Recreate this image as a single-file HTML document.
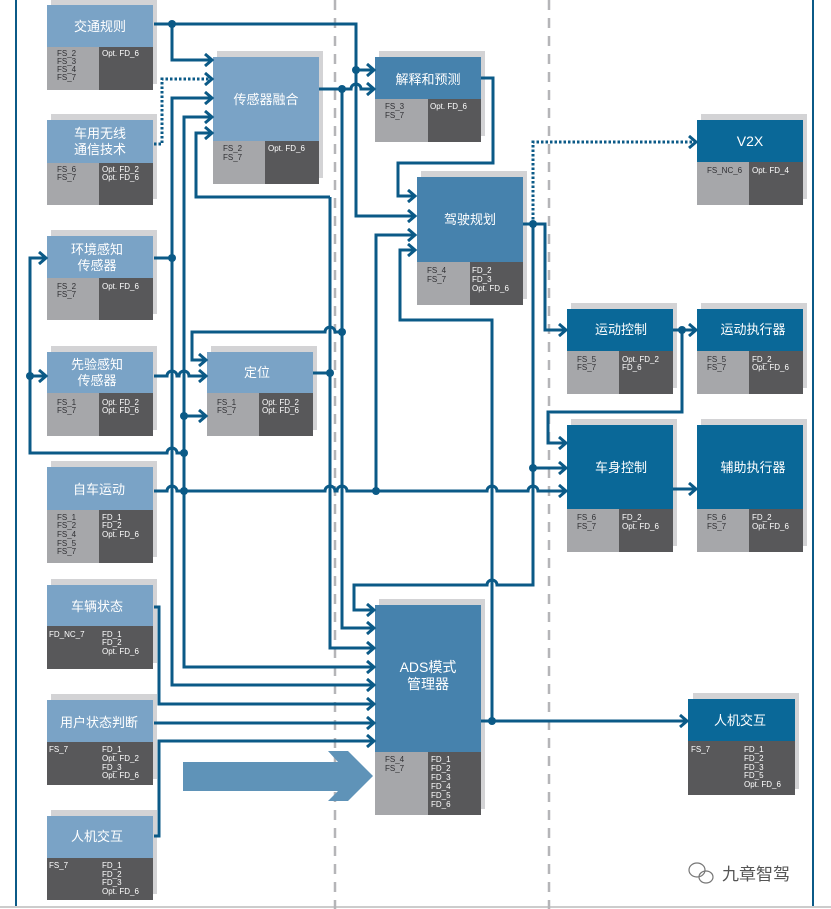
<!DOCTYPE html>
<html><head><meta charset="utf-8"><style>
html,body{margin:0;padding:0;background:#fff;}
svg{display:block;}
.t{font-family:"Liberation Sans","Noto Sans CJK SC",sans-serif;fill:#fff;font-size:13px;text-anchor:middle;}
.s{font-family:"Liberation Sans",sans-serif;font-size:8px;}
.d{fill:#2f2f33;}
.w{fill:#fff;}
.c{fill:none;stroke:#0b5a87;stroke-width:3;}
.dt{fill:none;stroke:#0b5a87;stroke-width:3;stroke-dasharray:2.5,2;}
</style></head><body>
<svg width="831" height="909" viewBox="0 0 831 909" xmlns="http://www.w3.org/2000/svg">
<defs>
<marker id="a" markerUnits="userSpaceOnUse" markerWidth="12" markerHeight="14" refX="9" refY="7" orient="auto">
<path d="M2,1 L9,7 L2,13" fill="none" stroke="#0b5a87" stroke-width="3"/>
</marker>
</defs>
<rect width="831" height="909" fill="#fff"/>
<line x1="16" y1="0" x2="16" y2="906" stroke="#0b5a87" stroke-width="2"/>
<line x1="813" y1="0" x2="813" y2="906" stroke="#0b5a87" stroke-width="2"/>
<line x1="0" y1="907" x2="831" y2="907" stroke="#ccc" stroke-width="2"/>
<line x1="335" y1="0" x2="335" y2="909" stroke="#b5b5b8" stroke-width="2.5" stroke-dasharray="10,8"/>
<line x1="549" y1="0" x2="549" y2="909" stroke="#b5b5b8" stroke-width="2.5" stroke-dasharray="10,8"/>

<polygon points="183,762 338,762 328,751 348,751 373,776 348,801 328,801 338,791 183,791" fill="#5f93b8"/>

<g>
<rect x="51" y="-1" width="106" height="85" fill="#d3d3d5"/>
<rect x="47" y="5" width="106" height="42" fill="#7aa3c6"/>
<rect x="47" y="47" width="52" height="43" fill="#a6a7aa"/><rect x="99" y="47" width="54" height="43" fill="#58585a"/>
<text class="t" x="100" y="31">交通规则</text>
<text class="s d" x="57" y="56">FS_2</text><text class="s d" x="57" y="64">FS_3</text><text class="s d" x="57" y="72">FS_4</text><text class="s d" x="57" y="80">FS_7</text>
<text class="s w" x="102" y="56">Opt. FD_6</text>

<rect x="51" y="114" width="106" height="85" fill="#d3d3d5"/>
<rect x="47" y="120" width="106" height="43" fill="#7aa3c6"/>
<rect x="47" y="163" width="52" height="42" fill="#a6a7aa"/><rect x="99" y="163" width="54" height="42" fill="#58585a"/>
<text class="t" x="100" y="138">车用无线</text><text class="t" x="100" y="154">通信技术</text>
<text class="s d" x="57" y="172">FS_6</text><text class="s d" x="57" y="180">FS_7</text>
<text class="s w" x="102" y="172">Opt. FD_2</text><text class="s w" x="102" y="180">Opt. FD_6</text>

<rect x="51" y="230" width="106" height="84" fill="#d3d3d5"/>
<rect x="47" y="236" width="106" height="42" fill="#7aa3c6"/>
<rect x="47" y="278" width="52" height="42" fill="#a6a7aa"/><rect x="99" y="278" width="54" height="42" fill="#58585a"/>
<text class="t" x="97" y="254">环境感知</text><text class="t" x="97" y="270">传感器</text>
<text class="s d" x="57" y="289">FS_2</text><text class="s d" x="57" y="297">FS_7</text>
<text class="s w" x="102" y="289">Opt. FD_6</text>

<rect x="51" y="346" width="106" height="84" fill="#d3d3d5"/>
<rect x="47" y="352" width="106" height="41" fill="#7aa3c6"/>
<rect x="47" y="393" width="52" height="43" fill="#a6a7aa"/><rect x="99" y="393" width="54" height="43" fill="#58585a"/>
<text class="t" x="97" y="369">先验感知</text><text class="t" x="97" y="385">传感器</text>
<text class="s d" x="57" y="405">FS_1</text><text class="s d" x="57" y="413">FS_7</text>
<text class="s w" x="102" y="405">Opt. FD_2</text><text class="s w" x="102" y="413">Opt. FD_6</text>

<rect x="51" y="461" width="106" height="96" fill="#d3d3d5"/>
<rect x="47" y="467" width="106" height="43" fill="#7aa3c6"/>
<rect x="47" y="510" width="52" height="53" fill="#a6a7aa"/><rect x="99" y="510" width="54" height="53" fill="#58585a"/>
<text class="t" x="99" y="494">自车运动</text>
<text class="s d" x="57" y="520">FS_1</text><text class="s d" x="57" y="528">FS_2</text><text class="s d" x="57" y="537">FS_4</text><text class="s d" x="57" y="546">FS_5</text><text class="s d" x="57" y="554">FS_7</text>
<text class="s w" x="102" y="520">FD_1</text><text class="s w" x="102" y="528">FD_2</text><text class="s w" x="102" y="537">Opt. FD_6</text>

<rect x="51" y="579" width="106" height="84" fill="#d3d3d5"/>
<rect x="47" y="585" width="106" height="41" fill="#7aa3c6"/>
<rect x="47" y="626" width="106" height="43" fill="#58585a"/>
<text class="t" x="97" y="611">车辆状态</text>
<text class="s w" x="49" y="637">FD_NC_7</text>
<text class="s w" x="102" y="637">FD_1</text><text class="s w" x="102" y="645">FD_2</text><text class="s w" x="102" y="654">Opt. FD_6</text>

<rect x="51" y="694" width="106" height="85" fill="#d3d3d5"/>
<rect x="47" y="700" width="106" height="42" fill="#7aa3c6"/>
<rect x="47" y="742" width="106" height="43" fill="#58585a"/>
<text class="t" x="99" y="727">用户状态判断</text>
<text class="s w" x="49" y="752">FS_7</text>
<text class="s w" x="102" y="752">FD_1</text><text class="s w" x="102" y="761">Opt. FD_2</text><text class="s w" x="102" y="770">FD_3</text><text class="s w" x="102" y="778">Opt. FD_6</text>

<rect x="51" y="810" width="106" height="84" fill="#d3d3d5"/>
<rect x="47" y="816" width="106" height="42" fill="#7aa3c6"/>
<rect x="47" y="858" width="106" height="42" fill="#58585a"/>
<text class="t" x="97" y="841">人机交互</text>
<text class="s w" x="49" y="868">FS_7</text>
<text class="s w" x="102" y="868">FD_1</text><text class="s w" x="102" y="877">FD_2</text><text class="s w" x="102" y="885">FD_3</text><text class="s w" x="102" y="894">Opt. FD_6</text>

<rect x="217" y="51" width="106" height="127" fill="#d3d3d5"/>
<rect x="213" y="57" width="106" height="84" fill="#7aa3c6"/>
<rect x="213" y="141" width="52" height="43" fill="#a6a7aa"/><rect x="265" y="141" width="54" height="43" fill="#58585a"/>
<text class="t" x="266" y="104">传感器融合</text>
<text class="s d" x="223" y="151">FS_2</text><text class="s d" x="223" y="160">FS_7</text>
<text class="s w" x="268" y="151">Opt. FD_6</text>

<rect x="211" y="346" width="106" height="84" fill="#d3d3d5"/>
<rect x="207" y="352" width="106" height="41" fill="#7aa3c6"/>
<rect x="207" y="393" width="52" height="43" fill="#a6a7aa"/><rect x="259" y="393" width="54" height="43" fill="#58585a"/>
<text class="t" x="257" y="377">定位</text>
<text class="s d" x="217" y="405">FS_1</text><text class="s d" x="217" y="413">FS_7</text>
<text class="s w" x="262" y="405">Opt. FD_2</text><text class="s w" x="262" y="413">Opt. FD_6</text>

<rect x="379" y="51" width="106" height="85" fill="#d3d3d5"/>
<rect x="375" y="57" width="106" height="42" fill="#4682ad"/>
<rect x="375" y="99" width="53" height="43" fill="#a6a7aa"/><rect x="428" y="99" width="53" height="43" fill="#58585a"/>
<text class="t" x="428" y="84">解释和预测</text>
<text class="s d" x="385" y="109">FS_3</text><text class="s d" x="385" y="118">FS_7</text>
<text class="s w" x="430" y="109">Opt. FD_6</text>

<rect x="421" y="171" width="106" height="128" fill="#d3d3d5"/>
<rect x="417" y="177" width="106" height="85" fill="#4682ad"/>
<rect x="417" y="262" width="53" height="43" fill="#a6a7aa"/><rect x="470" y="262" width="53" height="43" fill="#58585a"/>
<text class="t" x="470" y="224">驾驶规划</text>
<text class="s d" x="427" y="273">FS_4</text><text class="s d" x="427" y="282">FS_7</text>
<text class="s w" x="472" y="273">FD_2</text><text class="s w" x="472" y="282">FD_3</text><text class="s w" x="472" y="291">Opt. FD_6</text>

<rect x="379" y="599" width="106" height="210" fill="#d3d3d5"/>
<rect x="375" y="605" width="106" height="147" fill="#4682ad"/>
<rect x="375" y="752" width="53" height="63" fill="#a6a7aa"/><rect x="428" y="752" width="53" height="63" fill="#58585a"/>
<text class="t" x="428" y="672" style="font-size:14px">ADS模式</text><text class="t" x="428" y="689" style="font-size:14px">管理器</text>
<text class="s d" x="385" y="762">FS_4</text><text class="s d" x="385" y="771">FS_7</text>
<text class="s w" x="431" y="762">FD_1</text><text class="s w" x="431" y="771">FD_2</text><text class="s w" x="431" y="780">FD_3</text><text class="s w" x="431" y="789">FD_4</text><text class="s w" x="431" y="798">FD_5</text><text class="s w" x="431" y="807">FD_6</text>

<rect x="701" y="114" width="106" height="85" fill="#d3d3d5"/>
<rect x="697" y="120" width="106" height="42" fill="#0a6898"/>
<rect x="697" y="162" width="52" height="43" fill="#a6a7aa"/><rect x="749" y="162" width="54" height="43" fill="#58585a"/>
<text class="t" x="750" y="146" style="font-size:14px">V2X</text>
<text class="s d" x="707" y="173">FS_NC_6</text>
<text class="s w" x="752" y="173">Opt. FD_4</text>

<rect x="571" y="303" width="106" height="85" fill="#d3d3d5"/>
<rect x="567" y="309" width="106" height="42" fill="#0a6898"/>
<rect x="567" y="351" width="52" height="43" fill="#a6a7aa"/><rect x="619" y="351" width="54" height="43" fill="#58585a"/>
<text class="t" x="621" y="334">运动控制</text>
<text class="s d" x="577" y="362">FS_5</text><text class="s d" x="577" y="370">FS_7</text>
<text class="s w" x="622" y="362">Opt. FD_2</text><text class="s w" x="622" y="370">FD_6</text>

<rect x="701" y="303" width="106" height="85" fill="#d3d3d5"/>
<rect x="697" y="309" width="106" height="42" fill="#0a6898"/>
<rect x="697" y="351" width="52" height="43" fill="#a6a7aa"/><rect x="749" y="351" width="54" height="43" fill="#58585a"/>
<text class="t" x="753" y="334">运动执行器</text>
<text class="s d" x="707" y="362">FS_5</text><text class="s d" x="707" y="370">FS_7</text>
<text class="s w" x="752" y="362">FD_2</text><text class="s w" x="752" y="370">Opt. FD_6</text>

<rect x="571" y="419" width="106" height="127" fill="#d3d3d5"/>
<rect x="567" y="425" width="106" height="84" fill="#0a6898"/>
<rect x="567" y="509" width="52" height="43" fill="#a6a7aa"/><rect x="619" y="509" width="54" height="43" fill="#58585a"/>
<text class="t" x="621" y="472">车身控制</text>
<text class="s d" x="577" y="520">FS_6</text><text class="s d" x="577" y="529">FS_7</text>
<text class="s w" x="622" y="520">FD_2</text><text class="s w" x="622" y="529">Opt. FD_6</text>

<rect x="701" y="419" width="106" height="127" fill="#d3d3d5"/>
<rect x="697" y="425" width="106" height="84" fill="#0a6898"/>
<rect x="697" y="509" width="52" height="43" fill="#a6a7aa"/><rect x="749" y="509" width="54" height="43" fill="#58585a"/>
<text class="t" x="753" y="472">辅助执行器</text>
<text class="s d" x="707" y="520">FS_6</text><text class="s d" x="707" y="529">FS_7</text>
<text class="s w" x="752" y="520">FD_2</text><text class="s w" x="752" y="529">Opt. FD_6</text>

<rect x="693" y="693" width="106" height="96" fill="#d3d3d5"/>
<rect x="688" y="699" width="107" height="42" fill="#0a6898"/>
<rect x="688" y="741" width="107" height="54" fill="#58585a"/>
<text class="t" x="740" y="725">人机交互</text>
<text class="s w" x="691" y="752">FS_7</text>
<text class="s w" x="744" y="752">FD_1</text><text class="s w" x="744" y="761">FD_2</text><text class="s w" x="744" y="770">FD_3</text><text class="s w" x="744" y="778">FD_5</text><text class="s w" x="744" y="787">Opt. FD_6</text>
</g>

<g>
<path class="c" d="M154,24 H356 V216 H415" marker-end="url(#a)"/>
<path class="c" d="M172,24 V60 H212" marker-end="url(#a)"/>
<path class="c" d="M356,70 H374" marker-end="url(#a)"/>
<path class="c" d="M319,89 H351 A5,5 0 0 1 361,89 H374" marker-end="url(#a)"/>
<path class="c" d="M342,89 V628 H374" marker-end="url(#a)"/>
<path class="dt" d="M154,144 H162 V79 H212" marker-end="url(#a)"/>
<path class="c" d="M154,258 H172"/>
<path class="c" d="M172,258 V98 H212" marker-end="url(#a)"/>
<path class="c" d="M172,258 V685 H374" marker-end="url(#a)"/>
<path class="c" d="M184,300 V117 H212" marker-end="url(#a)"/>
<path class="c" d="M184,300 V667 H374" marker-end="url(#a)"/>
<path class="c" d="M184,416 H206" marker-end="url(#a)"/>
<path class="c" d="M330,197 H196 V133 H212" marker-end="url(#a)"/>
<path class="c" d="M330,197 V648 H374" marker-end="url(#a)"/>
<path class="c" d="M313,373 H330"/>
<path class="c" d="M342,332 H335 A5,5 0 0 0 325,332 H192 V360 H206" marker-end="url(#a)"/>
<path class="c" d="M154,376 H167 A5,5 0 0 1 177,376 H179 A5,5 0 0 1 189,376 H206" marker-end="url(#a)"/>
<path class="c" d="M30,300 V258 H46" marker-end="url(#a)"/>
<path class="c" d="M30,300 V453 H167 A5,5 0 0 1 177,453 H184"/>
<path class="c" d="M30,376 H46" marker-end="url(#a)"/>
<path class="c" d="M154,491 H167 A5,5 0 0 1 177,491 H325 A5,5 0 0 1 335,491 H337 A5,5 0 0 1 347,491 H487 A5,5 0 0 1 497,491 H528 A5,5 0 0 1 538,491 H566" marker-end="url(#a)"/>
<path class="c" d="M376,491 V235 H415" marker-end="url(#a)"/>
<path class="c" d="M492,721 V320 H400 V250 H415" marker-end="url(#a)"/>
<path class="c" d="M481,721 H687" marker-end="url(#a)"/>
<path class="c" d="M481,78 H493 V163 H398 V196 H415" marker-end="url(#a)"/>
<path class="c" d="M523,224 H545 V330 H566" marker-end="url(#a)"/>
<path class="dt" d="M533,224 V142 H696" marker-end="url(#a)"/>
<path class="c" d="M533,224 V585 H497 A5,5 0 0 0 487,585 H354 V610 H374" marker-end="url(#a)"/>
<path class="c" d="M533,468 H566" marker-end="url(#a)"/>
<path class="c" d="M673,330 H696" marker-end="url(#a)"/>
<path class="c" d="M682,330 V412 H548 V443 H566" marker-end="url(#a)"/>
<path class="c" d="M673,489 H696" marker-end="url(#a)"/>
<path class="c" d="M154,607 H159 V704 H374" marker-end="url(#a)"/>
<path class="c" d="M154,723 H374" marker-end="url(#a)"/>
<path class="c" d="M154,836 H159 V741 H374" marker-end="url(#a)"/>
</g>
<g fill="#0b5a87">
<circle cx="172" cy="24" r="4"/><circle cx="356" cy="70" r="4"/><circle cx="342" cy="89" r="4"/>
<circle cx="172" cy="258" r="4"/><circle cx="184" cy="416" r="4"/><circle cx="184" cy="453" r="4"/>
<circle cx="184" cy="491" r="4"/><circle cx="30" cy="376" r="4"/><circle cx="342" cy="332" r="4"/>
<circle cx="330" cy="373" r="4"/><circle cx="376" cy="491" r="4"/><circle cx="533" cy="224" r="4"/>
<circle cx="533" cy="468" r="4"/><circle cx="682" cy="330" r="4"/><circle cx="492" cy="721" r="4"/>
</g>
<g fill="none" stroke="#777" stroke-width="1.2">
<ellipse cx="697" cy="870" rx="8" ry="7"/><ellipse cx="706" cy="877" rx="7" ry="6"/>
</g>
<text x="722" y="880" font-family="'Liberation Sans','Noto Sans CJK SC',sans-serif" font-size="17" fill="#555">九章智驾</text>
</svg>
</body></html>
